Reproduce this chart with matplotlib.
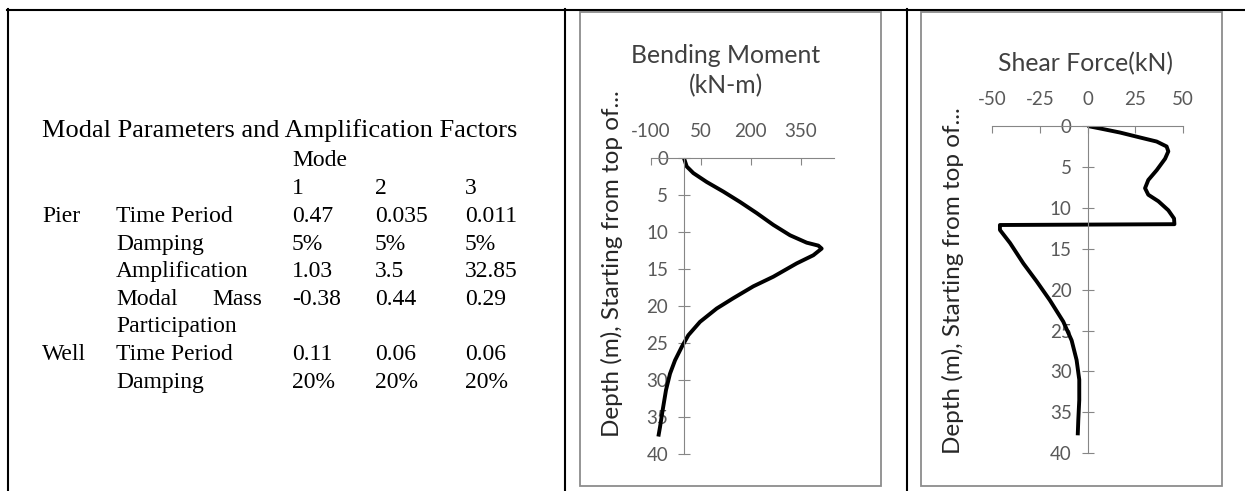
import matplotlib
matplotlib.use("Agg")
import matplotlib.pyplot as plt
from matplotlib.lines import Line2D
from matplotlib.patches import Rectangle

plt.rcParams["axes.unicode_minus"] = False

# === CONFIGURATION ===
W, H = 1245, 491          # output size in pixels
SERIF = "Liberation Serif"
SANS = "Lato"
GRAY = "#868686"
TXT = "#595959"

# === TABLE DATA ===
table_title = "Modal Parameters and Amplification Factors"
mode_header = "Mode"
modes = ["1", "2", "3"]
groups = ["Pier", "", "", "", "", "Well", ""]
params = ["Time Period", "Damping", "Amplification", "Modal Mass",
          "Participation", "Time Period", "Damping"]
mode1 = ["0.47", "5%", "1.03", "-0.38", "", "0.11", "20%"]
mode2 = ["0.035", "5%", "3.5", "0.44", "", "0.06", "20%"]
mode3 = ["0.011", "5%", "32.85", "0.29", "", "0.06", "20%"]

# === CURVE DATA ===
bm_depth = [0, 1.1, 2.0, 3.2, 4.5, 5.9, 7.4, 9.0, 10.4, 11.4, 11.8, 12.2,
            13.1, 14.2, 16.0, 17.3, 18.9, 20.3, 22.1, 23.9, 25.5, 27.3,
            29.1, 31.3, 34.0, 36.3, 37.6]
bm_moment = [0, 8, 28, 68, 118, 168, 218, 268, 318, 368, 403, 413,
             388, 338, 268, 208, 148, 98, 48, 13, -7, -27,
             -42, -54, -64, -72, -77]

sf_depth = [0, 0.3, 0.8, 1.4, 1.9, 2.5, 3.1, 4.0, 5.4, 6.6, 7.6, 8.4, 9.2,
            10.3, 11.3, 12.0, 12.1, 12.7, 14.3, 16.8, 19.0, 21.3, 23.9,
            26.2, 28.6, 31.0, 33.5, 35.9, 37.8]
sf_shear = [0, 6.5, 17, 27.4, 36.2, 41.4, 42.3, 40.6, 36.2, 31.8, 30.1, 31.8,
            37.1, 42.3, 45.3, 45.5, -46, -46, -40.7, -33.7, -26.7, -19.8,
            -12.8, -8.4, -5.8, -4.4, -4.4, -4.9, -5.2]

depth_ticks = list(range(0, 41, 5))
bm_ticks = [-100, 50, 200, 350]
sf_ticks = [-50, -25, 0, 25, 50]
bm_title = ["Bending Moment", "(kN-m)"]
sf_title = ["Shear Force(kN)"]
depth_label = "Depth (m), Starting from top of..."


def fx(px):
    return px / W


def fy(py):
    return 1 - py / H


fig = plt.figure(figsize=(W / 100, H / 100), dpi=100)

# === TABLE FRAME ===
for (x0, x1), (y0, y1) in [((7, 1245), (9.5, 9.5)), ((7.5, 7.5), (9, 491)),
                           ((565, 565), (9, 491)), ((907, 907), (9, 491))]:
    fig.add_artist(Line2D([fx(x0), fx(x1)], [fy(y0), fy(y1)],
                          color="black", lw=1.5))

# === TABLE TEXT ===
tsize = 17
col_x = [292, 375, 465]
fig.text(fx(42), fy(137), table_title, family=SERIF, fontsize=19,
         va="baseline")
fig.text(fx(col_x[0]), fy(166), mode_header, family=SERIF, fontsize=tsize,
         va="baseline")
for x, m in zip(col_x, modes):
    fig.text(fx(x), fy(194), m, family=SERIF, fontsize=tsize, va="baseline")

row_y = [222, 250, 277, 305, 332, 360, 388]
for i, y in enumerate(row_y):
    fig.text(fx(42), fy(y), groups[i], family=SERIF, fontsize=tsize,
             va="baseline")
    label = params[i]
    if label == "Modal Mass":
        # justified cell text
        a, b = label.split()
        fig.text(fx(116), fy(y), a, family=SERIF, fontsize=tsize,
                 va="baseline")
        fig.text(fx(262), fy(y), b, family=SERIF, fontsize=tsize,
                 va="baseline", ha="right")
    else:
        fig.text(fx(116), fy(y), label, family=SERIF, fontsize=tsize,
                 va="baseline")
    for x, col in zip(col_x, [mode1, mode2, mode3]):
        fig.text(fx(x), fy(y), col[i], family=SERIF, fontsize=tsize,
                 va="baseline")

# === CHART BOXES ===
for x0, x1 in [(580, 881), (921, 1222)]:
    fig.add_artist(Rectangle((fx(x0), fy(486)), fx(x1) - fx(x0),
                             fy(12) - fy(486), transform=fig.transFigure,
                             fill=False, edgecolor="#8c8c8c", lw=1.3))


def depth_chart(rect, xs, ys, xlim, xticks, title, title_x, title_y0,
                ylab_xy):
    ax = fig.add_axes(rect)
    ax.patch.set_visible(False)
    ax.plot(xs, ys, color="black", lw=2.8, solid_capstyle="butt")
    ax.set_xlim(*xlim)
    ax.set_ylim(40, 0)
    ax.set_xticks(xticks)
    ax.set_yticks(depth_ticks)
    ax.xaxis.tick_top()
    for s in ["bottom", "right"]:
        ax.spines[s].set_visible(False)
    ax.spines["top"].set_color(GRAY)
    ax.spines["left"].set_color(GRAY)
    ax.spines["left"].set_position(("data", 0))
    ax.tick_params(axis="x", direction="in", length=5, color=GRAY,
                   labelsize=13.5, labelcolor=TXT, pad=13)
    ax.tick_params(axis="y", direction="inout", length=9, color=GRAY,
                   labelsize=13.5, labelcolor=TXT, pad=7)
    for t in ax.get_xticklabels() + ax.get_yticklabels():
        t.set_family(SANS)
    for k, line in enumerate(title):
        fig.text(fx(title_x), fy(title_y0 + 30 * k), line, family=SANS,
                 fontsize=17.8, color="#404040", ha="center", va="baseline")
    fig.text(fx(ylab_xy[0]), fy(ylab_xy[1]), depth_label, family=SANS,
             fontsize=17.5, rotation=90, ha="center", va="center",
             color="#262626")
    return ax


# bending moment
depth_chart([fx(650.7), fy(454.3), fx(834) - fx(650.7), fy(158.3) - fy(454.3)],
            bm_moment, bm_depth, (-100, 450), bm_ticks,
            bm_title, 726, 63, (611.7, 264))

# shear force
depth_chart([fx(992.3), fy(453.3), fx(1183) - fx(992.3), fy(126) - fy(453.3)],
            sf_shear, sf_depth, (-50, 50), sf_ticks,
            sf_title, 1085, 71, (953, 281))

fig.savefig("out.png", dpi=100, facecolor="white")
